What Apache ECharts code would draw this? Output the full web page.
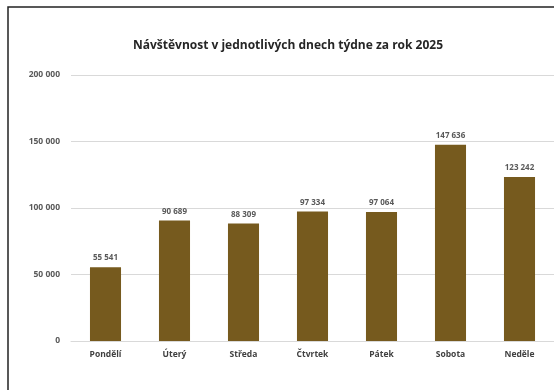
<!DOCTYPE html>
<html><head><meta charset="utf-8">
<script src="https://cdn.jsdelivr.net/npm/echarts@6/dist/echarts.min.js"></script>
<style>html,body{margin:0;padding:0;background:#fff}#c{width:554px;height:390px}</style>
</head><body><div id="c"></div>
<script>
const categories = ['Pondělí', 'Úterý', 'Středa', 'Čtvrtek', 'Pátek', 'Sobota', 'Neděle'];
const visitors = [55541, 90689, 88309, 97334, 97064, 147636, 123242];
const yTicks = [0, 50000, 100000, 150000, 200000];
const titleText = 'Návštěvnost v jednotlivých dnech týdne za rok 2025';

const fmt = v => String(v).replace(/\B(?=(\d{3})+(?!\d))/g, ' ');
const chart = echarts.init(document.getElementById('c'), null, {renderer: 'canvas'});
chart.setOption({
  animation: false,
  backgroundColor: '#fff',
  title: {
    text: titleText, left: 283, top: 35, textAlign: 'center',
    textStyle: {fontFamily: 'Open Sans', fontWeight: 'bold', fontSize: 12, color: '#262626'}
  },
  graphic: [{type: 'rect', shape: {x: 8, y: 7, width: 700, height: 500},
    style: {fill: 'none', stroke: '#222', lineWidth: 1.5}, silent: true}],
  grid: {left: 71, right: -10, top: 75, bottom: 49, containLabel: false},
  xAxis: {
    type: 'category', data: categories,
    axisLine: {lineStyle: {color: '#d9d9d9'}}, axisTick: {show: false},
    axisLabel: {fontFamily: 'Open Sans', fontWeight: 'bold', fontSize: 8.5, color: '#404040', margin: 9}
  },
  yAxis: {
    type: 'value', min: yTicks[0], max: yTicks[yTicks.length - 1], interval: yTicks[1] - yTicks[0],
    axisLine: {show: false}, axisTick: {show: false},
    splitLine: {lineStyle: {color: '#d9d9d9'}},
    axisLabel: {fontFamily: 'Open Sans', fontWeight: 'bold', fontSize: 8.5, color: '#595959', margin: 11, formatter: fmt}
  },
  series: [{
    type: 'bar', data: visitors, barCategoryGap: '55%',
    itemStyle: {color: '#765a1e'},
    label: {show: true, position: 'top', distance: 5, formatter: p => fmt(p.value),
      fontFamily: 'Open Sans', fontWeight: 'bold', fontSize: 8, color: '#595959'}
  }]
});
</script></body></html>
